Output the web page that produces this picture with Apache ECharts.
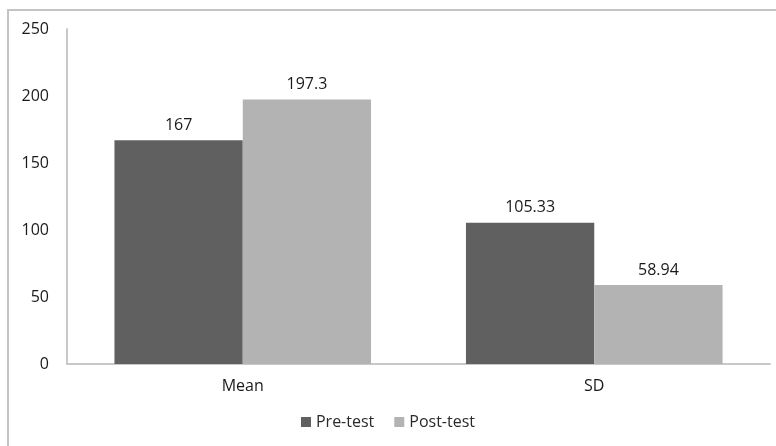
<!DOCTYPE html>
<html>
<head>
<meta charset="utf-8">
<script src="https://cdn.jsdelivr.net/npm/echarts@6/dist/echarts.min.js"></script>
<style>
  html, body { margin: 0; padding: 0; background: #fff; }
  #chart { width: 776px; height: 446px; }
</style>
</head>
<body>
<div id="chart"></div>
<script>
// Test statistics by group
const categories = ['Mean', 'SD'];
const preTest = [167, 105.33];
const postTest = [197.3, 58.94];
const yTicks = { min: 0, max: 250, interval: 50 };

const font = '"Open Sans", "Liberation Sans", sans-serif';
const chart = echarts.init(document.getElementById('chart'), null, { renderer: 'canvas' });

const labelStyle = {
  show: true,
  position: 'top',
  distance: 7,
  color: '#1a1a1a',
  fontSize: 16,
  fontFamily: font
};

chart.setOption({
  animation: false,
  backgroundColor: '#fff',
  graphic: [{
    type: 'rect',
    shape: { x: 8, y: 10, width: 820, height: 500 },
    style: { fill: 'none', stroke: '#c4c4c4', lineWidth: 2 },
    silent: true
  }],
  grid: { left: 67, right: 6, top: 29, bottom: 82, containLabel: false },
  legend: {
    bottom: 11,
    left: 'center',
    itemWidth: 10,
    itemHeight: 10,
    itemGap: 20,
    icon: 'rect',
    textStyle: { color: '#2a2a2a', fontSize: 16, fontFamily: font },
    data: ['Pre-test', 'Post-test']
  },
  xAxis: {
    type: 'category',
    data: categories,
    axisLine: { lineStyle: { color: '#c8c8c8', width: 2 } },
    axisTick: { show: false },
    axisLabel: { color: '#1a1a1a', fontSize: 16, fontFamily: font, margin: 14 }
  },
  yAxis: {
    type: 'value',
    min: yTicks.min,
    max: yTicks.max,
    interval: yTicks.interval,
    axisLine: { show: true, lineStyle: { color: '#c8c8c8', width: 2 } },
    axisTick: { show: false },
    splitLine: { show: false },
    axisLabel: { color: '#1a1a1a', fontSize: 16, fontFamily: font, margin: 18 }
  },
  series: [
    {
      name: 'Pre-test',
      type: 'bar',
      data: preTest,
      barGap: '0%',
      barCategoryGap: '27%',
      itemStyle: { color: '#606060' },
      label: labelStyle
    },
    {
      name: 'Post-test',
      type: 'bar',
      data: postTest,
      itemStyle: { color: '#b3b3b3' },
      label: labelStyle
    }
  ]
});
</script>
</body>
</html>
